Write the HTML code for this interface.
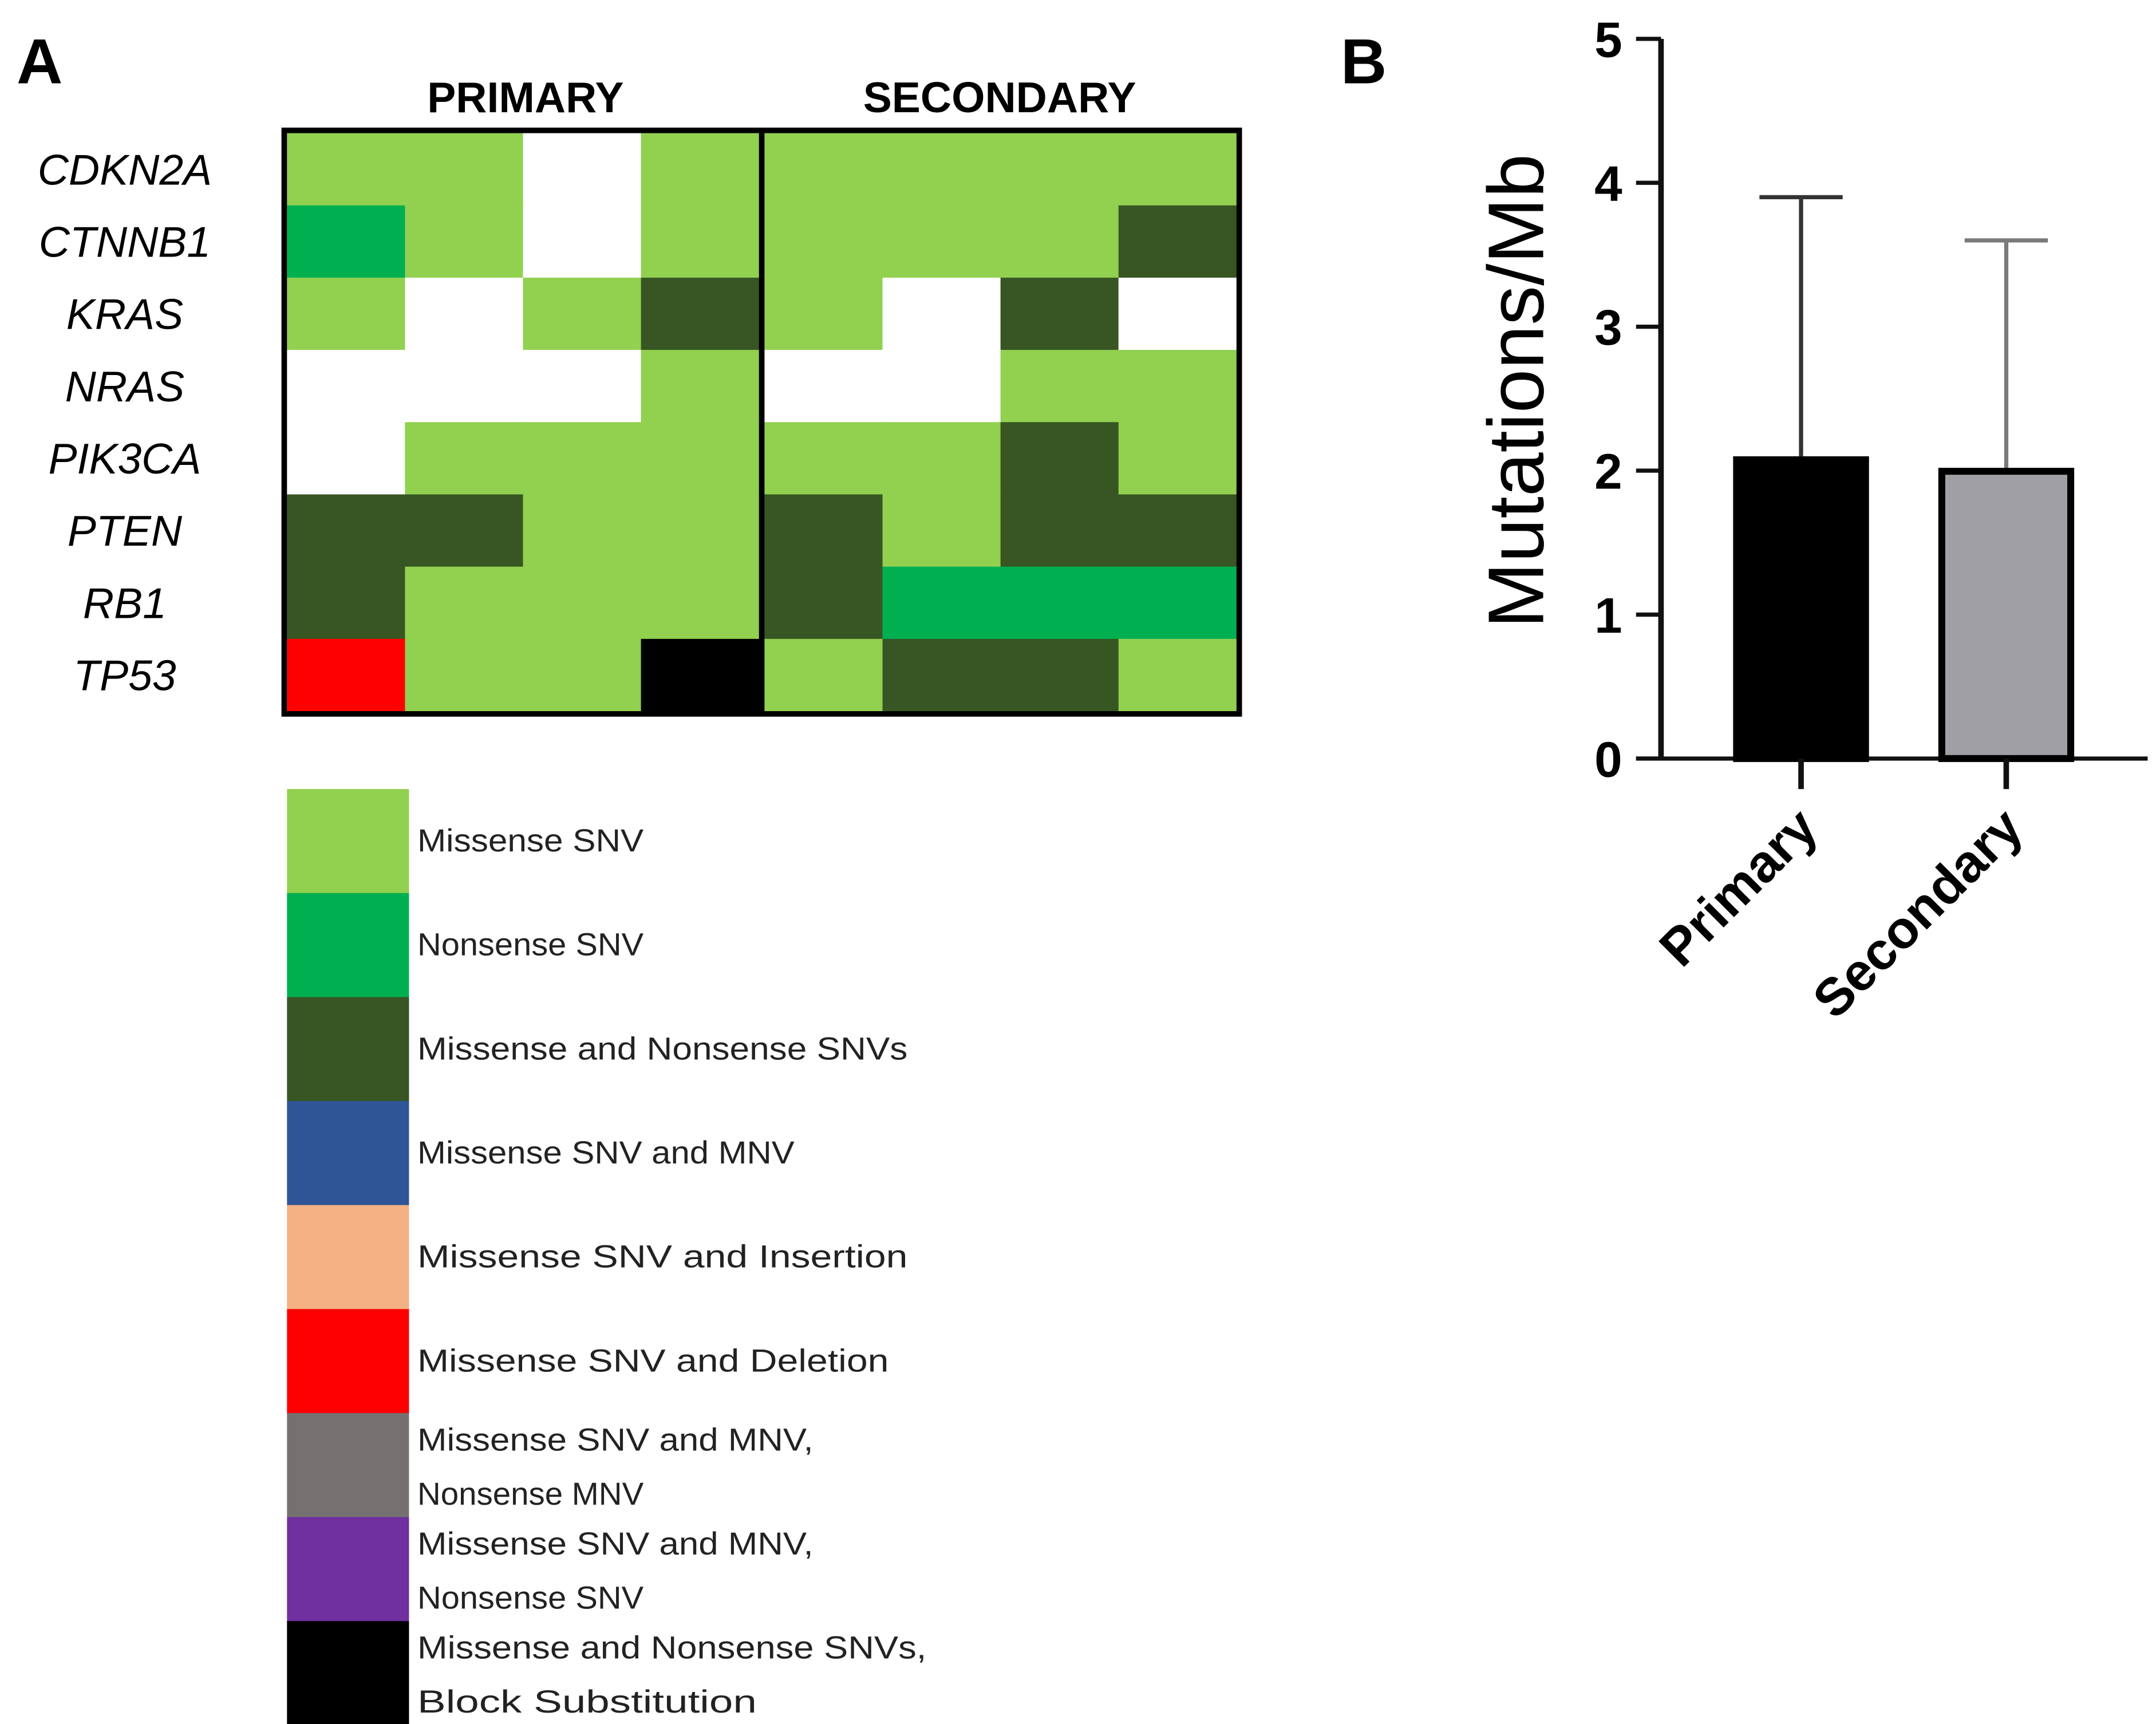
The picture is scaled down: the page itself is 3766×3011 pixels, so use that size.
<!DOCTYPE html>
<html><head><meta charset="utf-8"><style>html,body{margin:0;padding:0;background:#fff}svg{display:block}</style></head>
<body>
<svg id="fig" width="3766" height="3011" viewBox="0 0 1555 1243.2" xmlns="http://www.w3.org/2000/svg">
<rect width="1555" height="1243.2" fill="#fff"/>
<text x="12" y="60" font-family="Liberation Sans, sans-serif" font-weight="bold" font-size="46">A</text>
<text x="967" y="60" font-family="Liberation Sans, sans-serif" font-weight="bold" font-size="46">B</text>
<g id="heat"></g>
<g id="legend"></g>
<g id="bars"></g>
</svg>
<script>
const genes = ["CDKN2A","CTNNB1","KRAS","NRAS","PIK3CA","PTEN","RB1","TP53"];
const groups = ["PRIMARY","SECONDARY"];
// codes: W none, L missense, G nonsense, D missense+nonsense, R del, K block
const cells = [
 ["L","L","W","L","L","L","L","L"],
 ["G","L","W","L","L","L","L","D"],
 ["L","W","L","D","L","W","D","W"],
 ["W","W","W","L","W","W","L","L"],
 ["W","L","L","L","L","L","D","L"],
 ["D","D","L","L","D","L","D","D"],
 ["D","L","L","L","D","G","G","G"],
 ["R","L","L","K","L","D","D","L"]
];
const legendLabels = [["Missense SNV"],["Nonsense SNV"],["Missense and Nonsense SNVs"],["Missense SNV and MNV"],["Missense SNV and Insertion"],["Missense SNV and Deletion"],["Missense SNV and MNV,","Nonsense MNV"],["Missense SNV and MNV,","Nonsense SNV"],["Missense and Nonsense SNVs,","Block Substitution"]];
const legendColors = ["#92d050","#00b050","#375623","#2f5597","#f4b183","#ff0000","#767171","#7030a0","#000000"];
const codeColor = {W:"#ffffff",L:"#92d050",G:"#00b050",D:"#375623",B:"#2f5597",P:"#f4b183",R:"#ff0000",Y:"#767171",U:"#7030a0",K:"#000000"};
const barCats = ["Primary","Secondary"];
const barVals = [2.1,2.02];
const errVals = [3.9,3.6];
const yTicks = [0,1,2,3,4,5];

const NS="http://www.w3.org/2000/svg";
function mk(tag,attrs,parent,txt){const e=document.createElementNS(NS,tag);for(const k in attrs)e.setAttribute(k,attrs[k]);if(txt!==undefined)e.textContent=txt;parent.appendChild(e);return e;}

// heatmap
const heat=document.getElementById('heat');
const hx0=207,hy0=96,cw=85.1,ch=52.1,gap=4;
function cx(c){return hx0+c*cw+(c>=4?gap:0);}
function cy(r){return hy0+r*ch;}
cells.forEach((row,r)=>row.forEach((v,c)=>{
 const e=mk('rect',{x:cx(c),y:cy(r),width:cw+0.6,height:ch+0.6,fill:codeColor[v]},heat);
 
 
}));
mk('rect',{x:205,y:94,width:cx(8)+gap-205-2,height:8*ch+4,fill:'none',stroke:'#000','stroke-width':4},heat);
const dv=mk('line',{x1:cx(4)-gap/2,x2:cx(4)-gap/2,y1:94,y2:96+8*ch,stroke:'#000','stroke-width':4},heat);

genes.forEach((g,r)=>{
 const t=mk('text',{x:90,y:cy(r)+ch/2+11,'text-anchor':'middle','font-family':'Liberation Sans, sans-serif','font-style':'italic','font-size':31},heat,g);
 
 
});
groups.forEach((g,i)=>{
 const t=mk('text',{x:i?721:379,y:81,'text-anchor':'middle','font-family':'Liberation Sans, sans-serif','font-weight':'bold','font-size':31},heat,g);
 
 
});

// legend
const leg=document.getElementById('legend');
legendLabels.forEach((lines,i)=>{
 const y=569+i*75;
 const s=mk('rect',{x:207,y:y,width:88,height:75.5,fill:legendColors[i]},leg);
 
 
 lines.forEach((ln,j)=>{
  const ty=lines.length===1?y+45:y+27+j*39;
  const t=mk('text',{x:301,y:ty,'font-family':'Liberation Sans, sans-serif','font-size':23,fill:'#222',textLength:ln.length*13.6,lengthAdjust:'spacingAndGlyphs'},leg,ln);
  
  
 });
});

// bar chart
const bars=document.getElementById('bars');
const ax0=1198,ay0=547,ay5=28;
function ys(v){return ay0-(ay0-ay5)*v/5;}
const xC=[1299,1447];
const bw=98;
mk('line',{x1:ax0,x2:ax0,y1:ay5,y2:ay0+1,stroke:'#111','stroke-width':4},bars);
mk('line',{x1:1180,x2:1549,y1:ay0,y2:ay0,stroke:'#111','stroke-width':3},bars);
yTicks.forEach(v=>{
 mk('line',{x1:1180,x2:ax0,y1:ys(v),y2:ys(v),stroke:'#111','stroke-width':3},bars);
 const t=mk('text',{x:1170,y:ys(v)+13,'text-anchor':'end','font-family':'Liberation Sans, sans-serif','font-weight':'bold','font-size':36},bars,String(v));
 
 
});
const yt=mk('text',{transform:'translate(1113,282) rotate(-90)','text-anchor':'middle','font-family':'Liberation Sans, sans-serif','font-size':57},bars,'Mutations/Mb');


barCats.forEach((c,i)=>{
 const x=xC[i];
 const col=i?'#7a7a7a':'#333';
 const e=mk('line',{x1:x,x2:x,y1:ys(errVals[i]),y2:ys(barVals[i]),stroke:col,'stroke-width':3},bars);
 
 const cap=mk('line',{x1:x-30,x2:x+30,y1:ys(errVals[i]),y2:ys(errVals[i]),stroke:col,'stroke-width':3},bars);
 
 const b=mk('rect',{x:x-bw/2+2.5,y:ys(barVals[i])+2.5,width:bw-5,height:ay0-ys(barVals[i])-2.5,fill:i?'#a0a0a4':'#000',stroke:'#000','stroke-width':5},bars);
 
 
 mk('line',{x1:x,x2:x,y1:ay0,y2:ay0+22,stroke:'#111','stroke-width':4},bars);
 const t=mk('text',{transform:`translate(${x+14},${ay0+52}) rotate(-45)`,'text-anchor':'end','font-family':'Liberation Sans, sans-serif','font-weight':'bold','font-size':38},bars,c);
 
 
});
</script>
</body></html>
